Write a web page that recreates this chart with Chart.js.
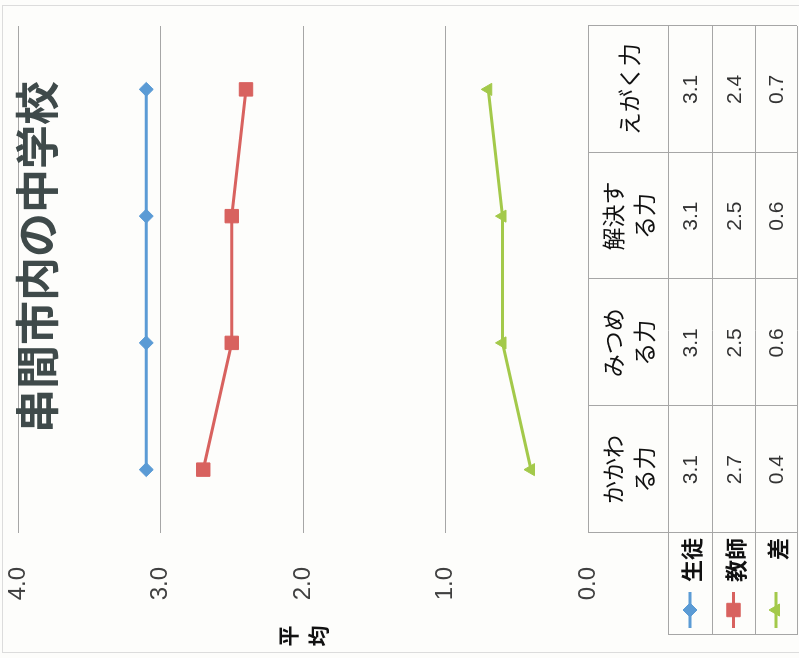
<!DOCTYPE html>
<html><head><meta charset="utf-8">
<script src="https://cdn.jsdelivr.net/npm/chart.js@4.4.0/dist/chart.umd.min.js"></script>
<style>
html,body{margin:0;padding:0;background:#fdfdfb;overflow:hidden;width:799px;height:658px;}
#wrap{position:absolute;left:0;top:0;width:658px;height:799px;transform-origin:0 0;transform:translate(0,658px) rotate(-90deg);background:#fdfdfb;}
#c{position:absolute;left:0;top:0;}
#frame{position:absolute;left:5px;top:2px;width:648px;height:810px;border:1px solid #dcdcdc;box-sizing:border-box;}
#title{position:absolute;left:151px;width:500px;top:3px;line-height:44px;text-align:center;font:bold 44px "Noto Sans CJK JP",sans-serif;color:#3f4a4a;white-space:nowrap;}
#ytitle{position:absolute;left:0;width:44px;top:272px;line-height:30px;text-align:center;font:bold 21px "Noto Sans CJK JP",sans-serif;color:#111;}
.cell{position:absolute;display:flex;align-items:center;justify-content:center;text-align:center;white-space:nowrap;box-sizing:border-box;}
.hdr{font:23px "Noto Sans CJK JP",sans-serif;line-height:31px;color:#111;}
.val{font:21px "Liberation Sans",Arial,sans-serif;color:#333;}
.leg{font:bold 22px "Noto Sans CJK JP",sans-serif;color:#111;justify-content:flex-end;padding-right:5px;}
</style></head><body>
<div id="wrap">
<div id="frame"></div>
<canvas id="c" width="658" height="799"></canvas>
<div id="title">串間市内の中学校</div>
<div id="ytitle">平<br>均</div>
</div>
<script>
// ---- data ----
const categories = ['かかわる力', 'みつめる力', '解決する力', 'えがく力'];
const headerLines = [['かかわ', 'る力'], ['みつめ', 'る力'], ['解決す', 'る力'], ['えがく力']];
const seriesNames = ['生徒', '教師', '差'];
const students = [3.1, 3.1, 3.1, 3.1];
const teachers = [2.7, 2.5, 2.5, 2.4];
const gaps = [0.4, 0.6, 0.6, 0.7];
const valueTicks = [0, 1, 2, 3, 4];

// ---- styles ----
const seriesValues = [students, teachers, gaps];
const styles = [
  {color: '#5b9bd5', point: 'rectRot', r: 7},
  {color: '#d8625f', point: 'rect', r: 9.5},
  {color: '#a3c94a', point: 'triangle', r: 7}
];
const GRID = '#a6a6a6';
const ROW_H = [80, 44, 43, 42];
const LEG_LEFT = 23;

const datasets = seriesNames.map((n, i) => ({
  label: n,
  data: seriesValues[i],
  borderColor: styles[i].color,
  backgroundColor: styles[i].color,
  pointStyle: styles[i].point,
  pointRadius: styles[i].r,
  pointBorderWidth: 1,
  borderWidth: 3,
  tension: 0
}));

function rowEdges(a) {
  const r = [a.bottom];
  ROW_H.forEach(h => r.push(r[r.length - 1] + h));
  return r;
}

const tablePlugin = {
  id: 'dataTable',
  afterDraw(chart) {
    const ctx = chart.ctx, a = chart.chartArea;
    const rows = rowEdges(a);
    const n = categories.length;
    const colW = (a.right - a.left) / n;
    const px = v => Math.round(v) + 0.5;
    ctx.save();
    ctx.strokeStyle = GRID;
    ctx.lineWidth = 1;
    ctx.beginPath();
    ctx.moveTo(a.left, px(rows[0])); ctx.lineTo(a.right, px(rows[0]));
    for (let i = 1; i < rows.length; i++) {
      ctx.moveTo(LEG_LEFT, px(rows[i])); ctx.lineTo(a.right, px(rows[i]));
    }
    for (let k = 0; k <= n; k++) {
      const x = px(a.left + k * colW);
      ctx.moveTo(x, rows[0]); ctx.lineTo(x, rows[rows.length - 1]);
    }
    ctx.moveTo(px(LEG_LEFT), rows[1]); ctx.lineTo(px(LEG_LEFT), rows[rows.length - 1]);
    ctx.stroke();
    for (let i = 0; i < seriesNames.length; i++) {
      const cy = (rows[i + 1] + rows[i + 2]) / 2;
      const ds = chart.data.datasets[i];
      ctx.strokeStyle = ds.borderColor;
      ctx.fillStyle = ds.backgroundColor;
      ctx.lineWidth = 3;
      ctx.beginPath();
      ctx.moveTo(30, cy); ctx.lineTo(66, cy);
      ctx.stroke();
      ctx.lineWidth = 1;
      Chart.helpers.drawPoint(ctx, {pointStyle: ds.pointStyle, radius: ds.pointRadius, rotation: 0, borderWidth: 1}, 48, cy);
    }
    ctx.restore();
  }
};

const chart = new Chart(document.getElementById('c'), {
  type: 'line',
  data: {labels: categories, datasets},
  options: {
    responsive: false,
    animation: false,
    events: [],
    layout: {padding: {left: 0, top: 18, right: 26, bottom: 211}},
    plugins: {legend: {display: false}, title: {display: false}, tooltip: {enabled: false}},
    scales: {
      x: {type: 'category', display: false, offset: true},
      y: {
        min: 0, max: 4,
        afterBuildTicks(s) { s.ticks = valueTicks.map(v => ({value: v})); },
        ticks: {
          padding: 0, color: '#404040',
          font: {family: '"Liberation Sans", Arial, sans-serif', size: 24},
          callback: v => Number(v).toFixed(1)
        },
        grid: {color: GRID, lineWidth: 1, drawTicks: true, tickLength: 34, tickColor: 'rgba(0,0,0,0)'},
        border: {display: false},
        afterFit(s) { s.width = 125; }
      }
    }
  },
  plugins: [tablePlugin]
});

// ---- HTML data table text ----
(function buildTable() {
  const wrap = document.getElementById('wrap');
  const a = chart.chartArea;
  const rows = rowEdges(a);
  const n = categories.length;
  const colW = (a.right - a.left) / n;
  function cell(cls, left, top, w, h, html) {
    const d = document.createElement('div');
    d.className = 'cell ' + cls;
    d.style.left = left + 'px'; d.style.top = top + 'px';
    d.style.width = w + 'px'; d.style.height = h + 'px';
    d.innerHTML = html;
    wrap.appendChild(d);
  }
  for (let k = 0; k < n; k++) {
    const left = a.left + k * colW;
    cell('hdr', left, rows[0], colW, rows[1] - rows[0], headerLines[k].join('<br>'));
    for (let i = 0; i < seriesNames.length; i++) {
      cell('val', left, rows[i + 1], colW, rows[i + 2] - rows[i + 1], seriesValues[i][k].toFixed(1));
    }
  }
  for (let i = 0; i < seriesNames.length; i++) {
    cell('leg', LEG_LEFT, rows[i + 1], a.left - LEG_LEFT, rows[i + 2] - rows[i + 1], seriesNames[i]);
  }
})();
</script>
</body></html>
